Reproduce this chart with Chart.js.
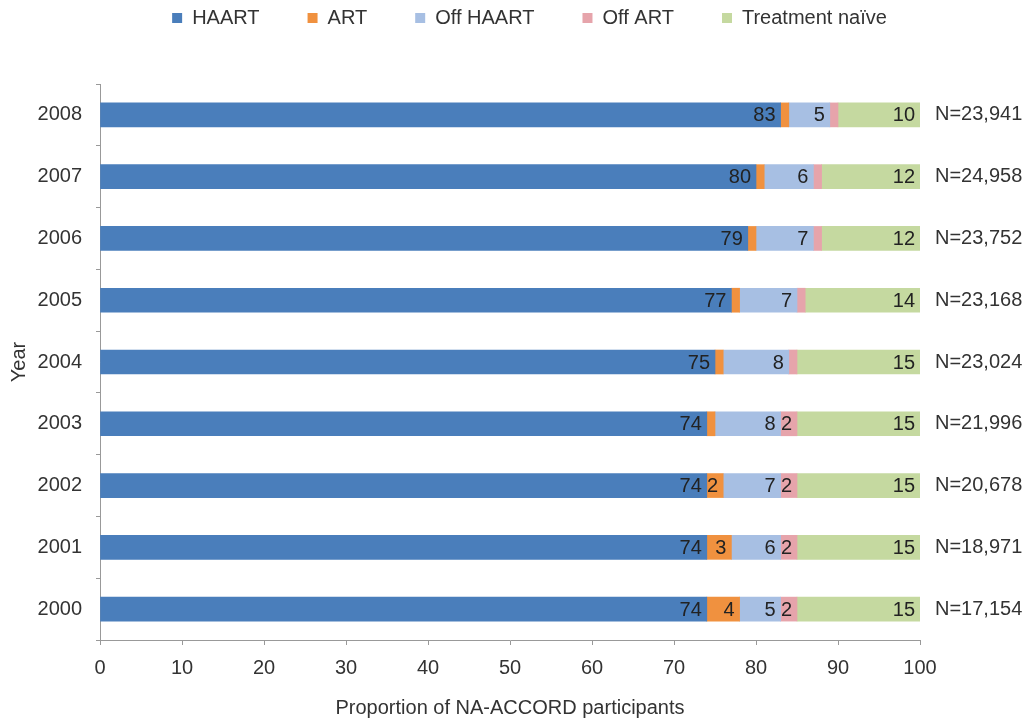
<!DOCTYPE html>
<html>
<head>
<meta charset="utf-8">
<script src="https://cdn.jsdelivr.net/npm/chart.js@4/dist/chart.umd.min.js"></script>
<style>
  body { margin: 0; background: #fff; }
</style>
</head>
<body>
<canvas id="myChart" width="1033" height="722"></canvas>
<script>
// dados (top to bottom as in the figure)
const years = ['2008', '2007', '2006', '2005', '2004', '2003', '2002', '2001', '2000'];
const haart = [83, 80, 79, 77, 75, 74, 74, 74, 74];
const art = [1, 1, 1, 1, 1, 1, 2, 3, 4];
const offHaart = [5, 6, 7, 7, 8, 8, 7, 6, 5];
const offArt = [1, 1, 1, 1, 1, 2, 2, 2, 2];
const naive = [10, 12, 12, 14, 15, 15, 15, 15, 15];
const nLabels = ['N=23,941', 'N=24,958', 'N=23,752', 'N=23,168', 'N=23,024', 'N=21,996', 'N=20,678', 'N=18,971', 'N=17,154'];
const xTicks = [0, 10, 20, 30, 40, 50, 60, 70, 80, 90, 100];

Chart.defaults.font.family = '"Liberation Sans", Arial, sans-serif';
Chart.defaults.font.size = 20;
Chart.defaults.color = '#333';

// legend: keep the wide item gap but control its height
const legendFit = {
  id: 'legendFit',
  beforeLayout(chart) {
    const lg = chart.legend;
    if (!lg || lg._patched) return;
    const fit = lg.fit;
    lg.fit = function () {
      fit.call(this);
      this.height = 124;
    };
    lg._patched = true;
  }
};

// value labels inside end of each segment
const barLabels = {
  id: 'barLabels',
  afterDatasetsDraw(chart) {
    const ctx = chart.ctx;
    ctx.save();
    ctx.font = '20px "Liberation Sans", Arial, sans-serif';
    ctx.fillStyle = '#222';
    ctx.textAlign = 'right';
    ctx.textBaseline = 'middle';
    chart.data.datasets.forEach((ds, i) => {
      chart.getDatasetMeta(i).data.forEach((bar, j) => {
        const v = ds.data[j];
        if (v < 2) return;
        ctx.fillText(String(v), bar.x - 5, bar.y + 1);
      });
    });
    ctx.restore();
  }
};

const ctx = document.getElementById('myChart');
const myChart = new Chart(ctx, {
  type: 'bar',
  data: {
    labels: years,
    datasets: [
      { label: 'HAART', data: haart, backgroundColor: '#4a7ebb' },
      { label: 'ART', data: art, backgroundColor: '#f0913f' },
      { label: 'Off HAART', data: offHaart, backgroundColor: '#a7bfe3' },
      { label: 'Off ART', data: offArt, backgroundColor: '#e6a4ab' },
      { label: 'Treatment naïve', data: naive, backgroundColor: '#c5d9a0' },
    ],
  },
  options: {
    indexAxis: 'y',
    responsive: false,
    animation: false,
    layout: { padding: { top: -40, right: -26, left: 0, bottom: 0 } },
    datasets: {
      bar: { barThickness: 24 },
    },
    plugins: {
      legend: {
        position: 'top',
        labels: { boxWidth: 10, boxHeight: 10, padding: 48, color: '#333' },
      },
      tooltip: { enabled: false },
    },
    scales: {
      x: {
        stacked: true,
        min: 0,
        max: 100,
        afterBuildTicks: (s) => { s.ticks = xTicks.map((v) => ({ value: v })); },
        afterFit: (s) => { s.height = 82; },
        grid: { drawOnChartArea: false, drawTicks: true, tickLength: 5, color: '#999' },
        border: { color: '#999' },
        ticks: { padding: 11, color: '#333' },
        title: {
          display: true,
          text: 'Proportion of NA-ACCORD participants',
          color: '#333',
          padding: { top: 4, bottom: 2 },
        },
      },
      y: {
        stacked: true,
        afterFit: (s) => { s.width = 100; },
        grid: { drawOnChartArea: false, offset: true, tickLength: 4, color: '#999' },
        border: { color: '#999' },
        ticks: { padding: 14, color: '#333' },
        title: { display: true, text: 'Year', color: '#333', padding: { top: 7, bottom: 0 } },
      },
      y2: {
        type: 'category',
        labels: nLabels,
        position: 'right',
        offset: true,
        afterFit: (s) => { s.width = 139; },
        grid: { display: false },
        border: { display: false },
        ticks: { padding: 7, color: '#333' },
      },
    },
  },
  plugins: [legendFit, barLabels],
});
</script>
</body>
</html>
